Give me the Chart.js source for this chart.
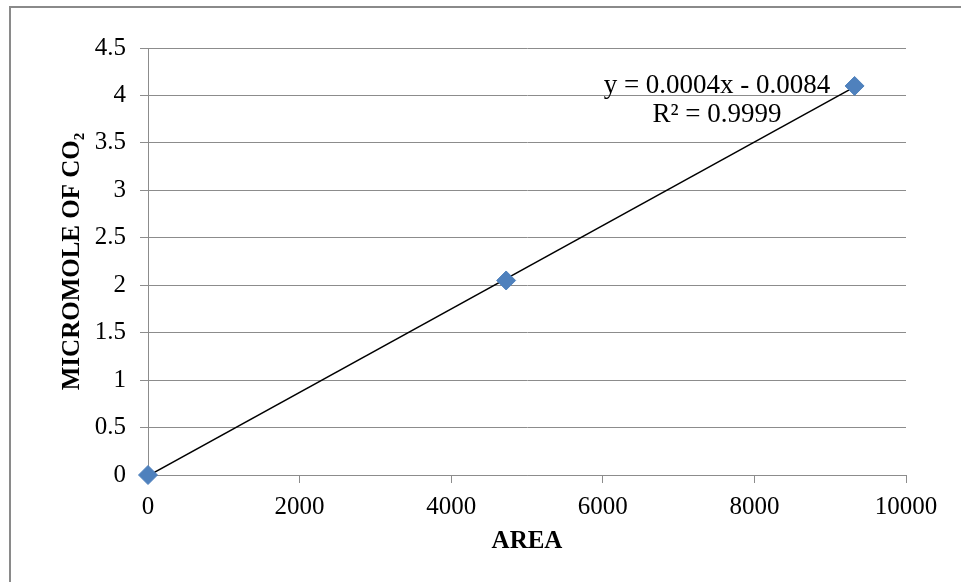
<!DOCTYPE html>
<html lang="en">
<head>
    <meta charset="UTF-8">
    <title>Micromole of CO2 vs Area</title>
    <script src="https://cdn.jsdelivr.net/npm/chart.js"></script>
    <style>
        html, body { margin: 0; padding: 0; background: #ffffff; }
        .chart-box { position: relative; width: 961px; height: 582px; }
    </style>
</head>
<body>
    <div class="chart-box">
        <canvas id="calibChart"></canvas>
    </div>
    <script>
        // Data
        const areaValues = [0, 4725, 9322];
        const co2Values = [0, 2.05, 4.10];
        const xTicks = [0, 2000, 4000, 6000, 8000, 10000];
        const yTicks = [0, 0.5, 1, 1.5, 2, 2.5, 3, 3.5, 4, 4.5];
        const trendLabels = ['y = 0.0004x - 0.0084', 'R² = 0.9999'];

        // Least-squares trend line through the points
        const n = areaValues.length;
        const mx = areaValues.reduce((a, b) => a + b, 0) / n;
        const my = co2Values.reduce((a, b) => a + b, 0) / n;
        let sxy = 0, sxx = 0;
        for (let i = 0; i < n; i++) {
            sxy += (areaValues[i] - mx) * (co2Values[i] - my);
            sxx += (areaValues[i] - mx) * (areaValues[i] - mx);
        }
        const slope = sxy / sxx;
        const intercept = my - slope * mx;
        const xMin = Math.min(...areaValues), xMax = Math.max(...areaValues);
        const trendPoints = [xMin, xMax].map(x => ({ x: x, y: intercept + slope * x }));

        const points = areaValues.map((x, i) => ({ x: x, y: co2Values[i] }));

        const gridGray = '#8c8c8c';
        const serif = "'Liberation Serif', 'Times New Roman', serif";

        // frame on left/top edge + trendline equation text
        const extras = {
            id: 'extras',
            afterDraw(chart) {
                const ctx = chart.ctx;
                ctx.save();
                ctx.strokeStyle = '#8a8a8a';
                ctx.lineWidth = 2;
                ctx.beginPath();
                ctx.moveTo(10, 582);
                ctx.lineTo(10, 7);
                ctx.lineTo(961, 7);
                ctx.stroke();

                ctx.fillStyle = '#000000';
                ctx.font = '27px ' + serif;
                ctx.textAlign = 'center';
                ctx.textBaseline = 'alphabetic';
                ctx.fillText(trendLabels[0], 717, 93);
                ctx.fillText(trendLabels[1], 717, 122);
                ctx.restore();
            }
        };

        new Chart(document.getElementById('calibChart'), {
            type: 'scatter',
            data: {
                datasets: [{
                    label: 'Trend',
                    type: 'line',
                    data: trendPoints,
                    borderColor: '#000000',
                    borderWidth: 1.5,
                    pointRadius: 0,
                    fill: false,
                    order: 2
                }, {
                    label: 'Micromole of CO2',
                    data: points,
                    pointStyle: 'rectRot',
                    pointRadius: 9.5,
                    backgroundColor: '#4f81bd',
                    borderColor: '#4f81bd',
                    borderWidth: 1,
                    clip: false,
                    order: 1
                }]
            },
            options: {
                responsive: true,
                maintainAspectRatio: false,
                animation: false,
                layout: {
                    padding: { left: 54, top: 48, right: 55, bottom: 21 }
                },
                plugins: {
                    legend: { display: false },
                    tooltip: { enabled: false }
                },
                scales: {
                    x: {
                        type: 'linear',
                        min: 0,
                        max: 10000,
                        afterBuildTicks: s => { s.ticks = xTicks.map(v => ({ value: v })); },
                        afterFit: s => { s.height = 86; },
                        grid: {
                            drawOnChartArea: false,
                            drawTicks: true,
                            tickLength: 8,
                            color: gridGray
                        },
                        border: { color: gridGray, width: 1 },
                        ticks: {
                            color: '#000000',
                            padding: 9,
                            maxRotation: 0,
                            callback: v => String(v),
                            font: { family: serif, size: 25 }
                        },
                        title: {
                            display: true,
                            text: 'AREA',
                            color: '#000000',
                            padding: { top: 4, bottom: 4 },
                            font: { family: serif, size: 25, weight: 'bold' }
                        }
                    },
                    y: {
                        type: 'linear',
                        min: 0,
                        max: 4.5,
                        afterBuildTicks: s => { s.ticks = yTicks.map(v => ({ value: v })); },
                        afterFit: s => { s.width = 94; },
                        grid: {
                            color: gridGray,
                            tickLength: 8
                        },
                        border: { color: gridGray, width: 1 },
                        ticks: {
                            color: '#000000',
                            padding: 14,
                            callback: v => String(v),
                            font: { family: serif, size: 25 }
                        },
                        title: {
                            display: true,
                            text: 'MICROMOLE OF CO₂',
                            color: '#000000',
                            padding: { top: 4, bottom: 4 },
                            font: { family: serif, size: 25, weight: 'bold' }
                        }
                    }
                }
            },
            plugins: [extras]
        });
    </script>
</body>
</html>
